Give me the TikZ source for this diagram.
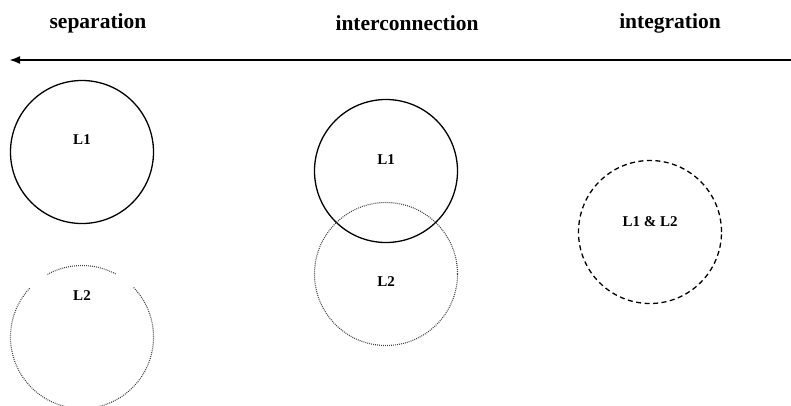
\documentclass[tikz,border=0pt]{standalone}
\usepackage{fontspec}
\setmainfont{Liberation Serif}
\usetikzlibrary{arrows.meta}

\begin{document}
\begin{tikzpicture}[x=1pt,y=-1pt,
  ring/.style={circle,minimum size=143pt,inner sep=0pt,outer sep=0pt},
  solidring/.style={ring,draw,line width=1.3pt},
  dotring/.style={dash pattern=on 0.9pt off 1.1pt,line width=1.1pt,black!75},
  dashring/.style={ring,draw,line width=1.3pt,dash pattern=on 5pt off 3.5pt},
  lbl/.style={font=\bfseries\fontsize{15}{17}\selectfont},
  head/.style={font=\bfseries\fontsize{21.5}{25}\selectfont}]

  \useasboundingbox (0,0) rectangle (791,405);

  \newcommand\Rad{71.5pt}

  %% headings
  \node[head] (hsep) at (98,23) {separation};
  \node[head] (hcon) at (407,23) {interconnection};
  \node[head] (hint) at (670,23) {integration};

  %% axis, pointing left
  \coordinate (tail) at (791,60);
  \coordinate (tip) at (9,60);
  \draw[line width=2pt,-{Latex[length=11pt,width=8pt]}] (tail) -- (tip);

  %% separation
  \node[solidring] (sepA) at (82,152) {};
  \node[lbl] (sepAl) at (82,140) {L1};
  \node[ring] (sepB) at (82,337) {};
  \draw[dotring] (sepB.62) arc[start angle=62,end angle=119,radius=\Rad];
  \draw[dotring] (sepB.137) arc[start angle=137,end angle=404,radius=\Rad];
  \node[lbl] (sepBl) at (82,296) {L2};

  %% interconnection
  \node[solidring] (conA) at (386,171) {};
  \node[lbl] (conAl) at (386,160) {L1};
  \node[ring,draw,dotring] (conB) at (386,274) {};
  \node[lbl] (conBl) at (386,282) {L2};

  %% integration
  \node[dashring] (intC) at (650,232) {};
  \node[lbl] (intCl) at (650,222) {L1 \& L2};

\end{tikzpicture}
\end{document}
